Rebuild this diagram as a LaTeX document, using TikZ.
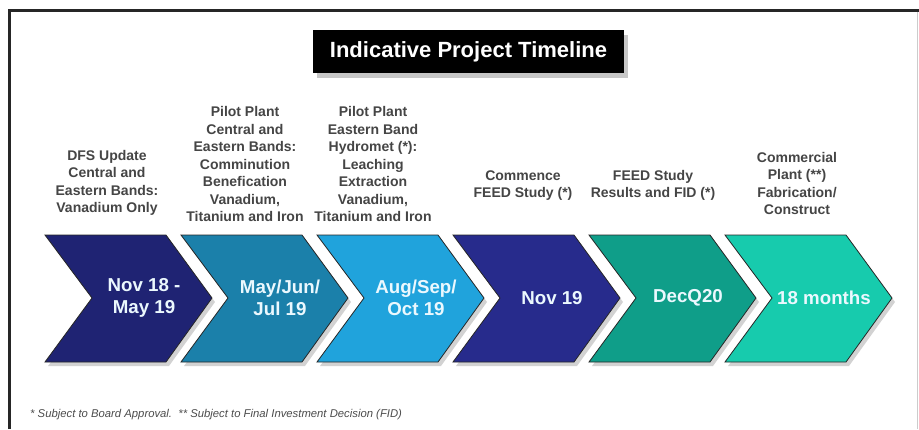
\documentclass[tikz,border=0pt]{standalone}
\usepackage{fontspec}
\setmainfont{Liberation Sans}
\usepackage{tikz}
\usetikzlibrary{shadows,positioning,calc}

\definecolor{navyA}{HTML}{1F2373}
\definecolor{tealA}{HTML}{1B80AA}
\definecolor{skyA}{HTML}{20A3DC}
\definecolor{navyB}{HTML}{272B8C}
\definecolor{greenA}{HTML}{0F9E89}
\definecolor{greenB}{HTML}{17CBAD}
\definecolor{stagegray}{HTML}{454545}

\tikzset{
  chev/.style={draw=black!85, line width=0.8pt,
    drop shadow={shadow xshift=3pt, shadow yshift=-4pt, fill=black!50, opacity=0.35}},
  stage/.style={align=center, anchor=south, inner sep=0pt, text depth=0pt,
    text=stagegray, font=\bfseries\fontsize{14}{17.5}\selectfont},
  datebox/.style={align=center, inner sep=0pt, text=white!92!cyan,
    font=\bfseries\fontsize{18.7}{22}\selectfont}
}

\begin{document}
\begin{tikzpicture}[x=1pt,y=-1pt]
\useasboundingbox (0,0) rectangle (919,429);
\fill[white] (0,0) rectangle (919,429);

% frame
\draw[black!85, line width=3pt] (9.5,429) -- (9.5,10) -- (919,10);
\draw[black!20, line width=0.6pt] (917,11.5) -- (917,429);

% title
\node[fill=black, text=white, minimum width=311pt, minimum height=43pt,
  font=\bfseries\fontsize{22}{26}\selectfont,
  drop shadow={shadow xshift=4pt, shadow yshift=-5pt, fill=black!55, opacity=0.4}]
  (title) at (468.5,51.5) {Indicative Project Timeline};

% chevrons
\foreach \i/\col in {0/navyA,1/tealA,2/skyA,3/navyB,4/greenA,5/greenB}{
  \pgfmathsetmacro\xa{45+136*\i}
  \draw[chev, fill=\col] (\xa,235) -- ++(121,0) -- ++(46,63) -- ++(-46,64)
    -- ++(-121,0) -- ++(47,-64) -- cycle;
  \coordinate (c\i) at (\xa+99,298);
}

% dates
\node[datebox] (d0) at (c0) {Nov 18 -\\May 19};
\node[datebox] (d1) at (c1) {May/Jun/\\Jul 19};
\node[datebox] (d2) at (c2) {Aug/Sep/\\Oct 19};
\node[datebox] (d3) at (c3) {Nov 19};
\node[datebox] (d4) at (c4) {DecQ20};
\node[datebox] (d5) at (c5) {18 months};

% stages
\node[stage] (s0) at (107,213) {DFS Update\\Central and\\Eastern Bands:\\Vanadium Only};
\node[stage] (s1) at (245,222) {Pilot Plant\\Central and\\Eastern Bands:\\Comminution\\Benefication\\Vanadium,\\Titanium and Iron};
\node[stage] (s2) at (373,222) {Pilot Plant\\Eastern Band\\Hydromet (*):\\Leaching\\Extraction\\Vanadium,\\Titanium and Iron};
\node[stage] (s3) at (523,198) {Commence\\FEED Study (*)};
\node[stage] (s4) at (653,198) {FEED Study\\Results and FID (*)};
\node[stage] (s5) at (797,215) {Commercial\\Plant (**)\\Fabrication/\\Construct};

% footnote
\node[anchor=base west, inner sep=0pt, text=black!70, font=\itshape\fontsize{11.3}{13}\selectfont]
  (note) at (30,417) {* Subject to Board Approval.\ \ ** Subject to Final Investment Decision (FID)};
\end{tikzpicture}
\end{document}
